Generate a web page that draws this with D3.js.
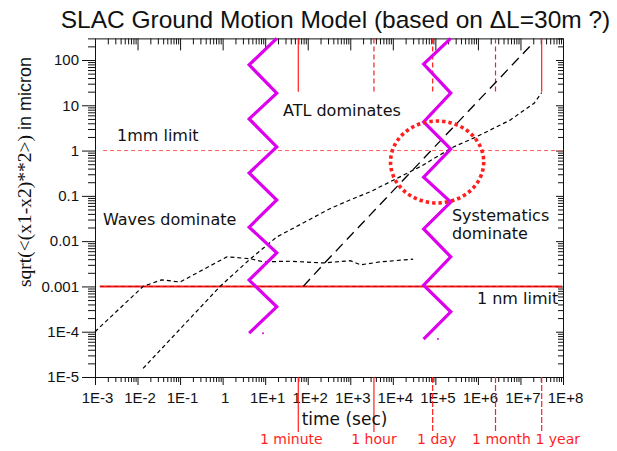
<!DOCTYPE html>
<html>
<head>
<meta charset="utf-8">
<script src="https://cdn.jsdelivr.net/npm/d3@7"></script>
<style>
  body { margin: 0; background: #fff; }
  svg { display: block; }
</style>
</head>
<body>
<div id="chart"></div>
<script>
// AXES
const xDecades = [1e-3, 1e-2, 1e-1, 1, 1e1, 1e2, 1e3, 1e4, 1e5, 1e6, 1e7, 1e8]
const xTickLabels = ["1E-3", "1E-2", "1E-1", "1", "1E+1", "1E+2", "1E+3", "1E+4", "1E+5", "1E+6", "1E+7", "1E+8"]
const yDecades = [1e-5, 1e-4, 1e-3, 1e-2, 1e-1, 1, 10, 100]
const yTickLabels = ["1E-5", "1E-4", "0.001", "0.01", "0.1", "1", "10", "100"]

// CURVES (time in sec, amplitude in micron)
const wavesTime = [1e-3, 0.0135, 0.037, 0.1, 1.26, 4.4, 9, 38, 230, 1000, 1750, 5200, 3e4]
const wavesAmp = [1e-4, 1e-3, 1.4e-3, 1.25e-3, 4.5e-3, 4.1e-3, 3.5e-3, 3.6e-3, 3.3e-3, 3.7e-3, 3.0e-3, 3.5e-3, 4.0e-3]

const atlTime = [0.0135, 0.87, 4.4, 18.6, 331, 977, 3000, 4.8e4, 2.5e5, 9.1e5, 5.7e6, 2.1e7, 3.15e7]
const atlAmp = [1.55e-5, 1e-3, 4e-3, 0.0123, 0.052, 0.081, 0.124, 0.46, 1.17, 2.0, 4.7, 11.1, 19]

const systTime = [78.5, 235, 1.66e7]
const systAmp = [1e-3, 3.1e-3, 200]

// LIMITS
const limitAmp = [1, 1e-3]
const limitLabels = ["1mm limit", "1 nm limit"]
const limitStart = [1.55e-3, 1.3e-3]

// ZIGZAG BREAKS
const zig1Time = [18.7, 4.2, 18.7, 4.2, 18.7, 4.2, 18.7, 4.2, 18.7, 4.2, 18.7, 4.2]
const zig1Amp = [300, 78, 18.6, 5.0, 1.2, 0.32, 0.081, 0.0204, 0.0055, 0.00138, 3.55e-4, 9.3e-5]
const zig2Time = [2.3e5, 5.3e4, 2.3e5, 5.3e4, 2.3e5, 5.3e4, 2.3e5, 5.3e4, 2.3e5, 5.3e4, 2.3e5, 5.3e4]
const zig2Amp = [300, 81, 18.6, 4.3, 1.08, 0.26, 0.073, 0.0186, 0.0045, 0.00107, 2.75e-4, 6.9e-5]
const zigDots = [[8.9, 9.3e-5], [1.15e5, 6.9e-5]]

// TIME MARKS
const markTime = [60, 3600, 86400, 2.592e6, 3.156e7]
const markLabels = ["1 minute", "1 hour", "1 day", "1 month", "1 year"]
const markTopEnd = 20

// HIGHLIGHT CIRCLE (center, half width in decades)
const circleCenter = [1.1e5, 0.56]
const circleHalf = [1.095, 0.905]

// -------------------

const width = 617
const height = 451

const sans = "'Liberation Sans', Arial, sans-serif"
const wide = "'DejaVu Sans', Verdana, sans-serif"
const serif = "'Liberation Serif', 'Times New Roman', serif"
const red = "#ff1e1e"
const magenta = "#dd00ee"

const x = d3.scaleLog().domain([1e-3, 1e8]).range([95, 563])
const y = d3.scaleLog().domain([1e-5, 300]).range([377, 38.4])

const minors = (decs, max) => decs
  .flatMap(d => [2, 3, 4, 5, 6, 7, 8, 9].map(k => d * k))
  .filter(v => v <= max * 1.0001)

const xMinor = minors(xDecades, 1e8)
const yMinor = minors(yDecades, 300)

const svg = d3.select("#chart")
  .append("svg")
  .attr("width", width)
  .attr("height", height)

const [x0, x1] = x.range()
const [y0, y1] = y.range()

// axes: bottom / left outside, top / right inside
const axisStyle = g => {
  g.selectAll("path, line").attr("stroke", "#111")
  g.selectAll("text").style("font-family", sans).style("font-size", "15px").attr("fill", "#111")
}

svg.append("g")
  .attr("transform", `translate(0,${y0})`)
  .call(d3.axisBottom(x).tickValues(xDecades).tickFormat((d, i) => xTickLabels[i]).tickSizeInner(8).tickSizeOuter(0).tickPadding(7))
  .call(axisStyle)
  .call(g => g.selectAll("text").attr("dx", 2))

svg.append("g")
  .attr("transform", `translate(0,${y0})`)
  .call(d3.axisBottom(x).tickValues(xMinor).tickFormat("").tickSizeInner(5).tickSizeOuter(0))
  .call(axisStyle)
  .call(g => g.select(".domain").remove())

svg.append("g")
  .attr("transform", `translate(${x0},0)`)
  .call(d3.axisLeft(y).tickValues(yDecades).tickFormat((d, i) => yTickLabels[i]).tickSizeInner(13).tickSizeOuter(0).tickPadding(3))
  .call(axisStyle)

svg.append("g")
  .attr("transform", `translate(${x0},0)`)
  .call(d3.axisLeft(y).tickValues(yMinor).tickFormat("").tickSizeInner(7).tickSizeOuter(0))
  .call(axisStyle)
  .call(g => g.select(".domain").remove())

svg.append("g")
  .attr("transform", `translate(0,${y1})`)
  .call(d3.axisBottom(x).tickValues(xDecades).tickFormat("").tickSizeInner(12).tickSizeOuter(0))
  .call(axisStyle)

svg.append("g")
  .attr("transform", `translate(0,${y1})`)
  .call(d3.axisBottom(x).tickValues(xMinor).tickFormat("").tickSizeInner(6).tickSizeOuter(0))
  .call(axisStyle)
  .call(g => g.select(".domain").remove())

svg.append("g")
  .attr("transform", `translate(${x1},0)`)
  .call(d3.axisLeft(y).tickValues(yDecades).tickFormat("").tickSizeInner(7).tickSizeOuter(0))
  .call(axisStyle)

svg.append("g")
  .attr("transform", `translate(${x1},0)`)
  .call(d3.axisLeft(y).tickValues(yMinor).tickFormat("").tickSizeInner(5).tickSizeOuter(0))
  .call(axisStyle)
  .call(g => g.select(".domain").remove())

// limit lines
svg.append("line")
  .attr("x1", x(limitStart[0])).attr("x2", x1 - 1)
  .attr("y1", y(limitAmp[0])).attr("y2", y(limitAmp[0]))
  .attr("stroke", "#ff5a5a").attr("stroke-width", 1).attr("stroke-dasharray", "4,3")

svg.append("line")
  .attr("x1", x(limitStart[1])).attr("x2", x1 - 1)
  .attr("y1", y(limitAmp[1])).attr("y2", y(limitAmp[1]))
  .attr("stroke", red).attr("stroke-width", 2)
svg.append("line")
  .attr("x1", x(limitStart[1])).attr("x2", x1 - 1)
  .attr("y1", y(limitAmp[1])).attr("y2", y(limitAmp[1]))
  .attr("stroke", "#b00000").attr("stroke-width", 0.8).attr("stroke-dasharray", "4,3")

// time marks at top (inside) and below the axis
const topDash = ["none", "5,3", "5,3", "5,3", "none"]
const bottomDash = ["none", "none", "6,2", "6,2", "6,2"]
const labelNudge = [-7, 0, 4, 6, 16]

svg.append("g")
  .selectAll("line")
  .data(markTime)
  .join("line")
  .attr("x1", d => x(d)).attr("x2", d => x(d))
  .attr("y1", y1).attr("y2", y(markTopEnd))
  .attr("stroke", red).attr("stroke-width", 1.2)
  .attr("stroke-dasharray", (d, i) => topDash[i])

svg.append("g")
  .selectAll("line")
  .data(markTime)
  .join("line")
  .attr("x1", d => x(d)).attr("x2", d => x(d))
  .attr("y1", y0).attr("y2", y0 + 55)
  .attr("stroke", red).attr("stroke-width", 1.2)
  .attr("stroke-dasharray", (d, i) => bottomDash[i])

svg.append("g")
  .selectAll("text")
  .data(markTime)
  .join("text")
  .attr("x", (d, i) => x(d) + labelNudge[i])
  .attr("y", 444)
  .attr("text-anchor", "middle")
  .style("font-family", wide)
  .style("font-size", "14px")
  .attr("fill", red)
  .text((d, i) => markLabels[i])

// curves
const line = d3.line().x(d => x(d[0])).y(d => y(d[1]))

svg.append("path")
  .datum(d3.zip(wavesTime, wavesAmp))
  .attr("d", line)
  .attr("fill", "none").attr("stroke", "#000").attr("stroke-width", 1.2).attr("stroke-dasharray", "4,3")

svg.append("path")
  .datum(d3.zip(atlTime, atlAmp))
  .attr("d", line)
  .attr("fill", "none").attr("stroke", "#000").attr("stroke-width", 1.2).attr("stroke-dasharray", "4,3")

svg.append("path")
  .datum(d3.zip(systTime, systAmp))
  .attr("d", line)
  .attr("fill", "none").attr("stroke", "#000").attr("stroke-width", 1.3).attr("stroke-dasharray", "10,6")

// zigzag breaks
;[d3.zip(zig1Time, zig1Amp), d3.zip(zig2Time, zig2Amp)].forEach(pts => {
  svg.append("path")
    .datum(pts)
    .attr("d", line)
    .attr("fill", "none").attr("stroke", magenta).attr("stroke-width", 3.2)
    .attr("stroke-linejoin", "miter")
})

svg.append("g")
  .selectAll("circle")
  .data(zigDots)
  .join("circle")
  .attr("cx", d => x(d[0])).attr("cy", d => y(d[1]))
  .attr("r", 1).attr("fill", magenta)

// dotted red circle
const cx = x(circleCenter[0])
const cy = y(circleCenter[1])
svg.append("ellipse")
  .attr("cx", cx).attr("cy", cy)
  .attr("rx", x(circleCenter[0] * Math.pow(10, circleHalf[0])) - cx)
  .attr("ry", cy - y(circleCenter[1] * Math.pow(10, circleHalf[1])))
  .attr("fill", "none").attr("stroke", red).attr("stroke-width", 3.6).attr("stroke-dasharray", "3.4,3")

// annotations
const notes = [
  { text: "1mm limit", t: 3.29e-3, a: 1.63 },
  { text: "ATL dominates", t: 26.2, a: 5.8 },
  { text: "Waves dominate", t: 1.54e-3, a: 0.0228 },
  { text: "Systematics", t: 2.45e5, a: 0.0279 },
  { text: "dominate", t: 2.45e5, a: 0.0109 },
  { text: "1 nm limit", t: 9.5e5, a: 4.16e-4 },
]

svg.append("g")
  .selectAll("text")
  .data(notes)
  .join("text")
  .attr("x", d => x(d.t))
  .attr("y", d => y(d.a))
  .style("font-family", wide)
  .style("font-size", "16px")
  .attr("fill", "#111")
  .text(d => d.text)

// titles
svg.append("text")
  .attr("x", 335.5).attr("y", 28)
  .attr("text-anchor", "middle")
  .style("font-family", sans)
  .style("font-size", "24.5px")
  .attr("fill", "#111")
  .text("SLAC Ground Motion Model (based on \u0394L=30m ?)")

svg.append("text")
  .attr("x", 344.5).attr("y", 425)
  .attr("text-anchor", "middle")
  .style("font-family", wide)
  .style("font-size", "17px")
  .attr("fill", "#111")
  .text("time (sec)")

const yTitle = svg.append("text")
  .attr("transform", "translate(31,287) rotate(-90)")
  .attr("fill", "#111")
yTitle.append("tspan").style("font-family", serif).style("font-size", "19.5px").text("sqrt(<(x1-x2)**2>)")
yTitle.append("tspan").style("font-family", sans).style("font-size", "18px").text(" in micron")
</script>
</body>
</html>
